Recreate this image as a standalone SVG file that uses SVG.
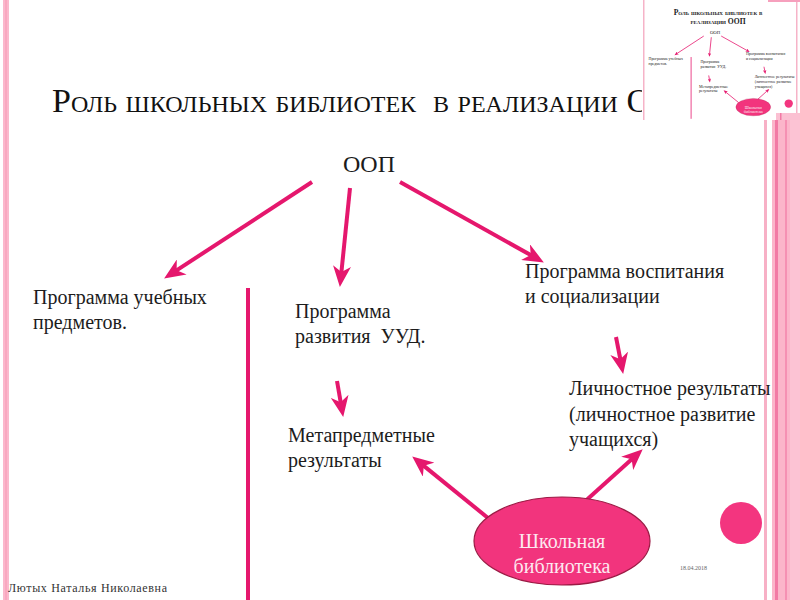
<svg xmlns="http://www.w3.org/2000/svg" xmlns:xlink="http://www.w3.org/1999/xlink" width="800" height="600" viewBox="0 0 800 600">
<style>
.t{font-family:"Liberation Serif","Times New Roman",serif;font-size:20px;fill:#1c1c1c}
.c{stroke:#e5176d;stroke-width:4;fill:none;marker-end:url(#ah)}
.title{font-family:"Liberation Serif","Times New Roman",serif;font-size:34px;font-variant:small-caps;fill:#111;white-space:pre}
.mt{font-family:"Liberation Serif","Times New Roman",serif;font-size:7.6px;font-weight:bold;font-variant:small-caps;fill:#222;text-anchor:middle}
</style>
<defs>
<marker id="ah" markerUnits="userSpaceOnUse" markerWidth="22" markerHeight="18" viewBox="0 0 22 18" refX="8" refY="9" orient="auto">
<path d="M0,0 L21,9 L0,18 L6,9 z" fill="#e5176d"/>
</marker>
</defs>
<rect width="800" height="600" fill="#fff"/>
<g id="borders">
<rect x="3" y="0" width="6" height="600" fill="#fbb8cc"/>
<rect x="5" y="0" width="2" height="600" fill="#f9a8c0"/>
<rect x="764" y="120" width="3" height="480" fill="#f7b0c6"/>
<rect x="772" y="120" width="28" height="480" fill="#fbb5ca"/>
<rect x="775" y="120" width="3" height="480" fill="#f27aa5"/>
<rect x="785" y="120" width="2" height="480" fill="#f590b3"/>
<rect x="790" y="120" width="10" height="480" fill="#fcc3d4"/>
</g>
<text class="title" x="52" y="112">Роль школьных библиотек  в реализации ООП</text>
<g id="diagram">
<g id="connectors">
<line class="c" x1="312" y1="182" x2="175" y2="271.4"/>
<line class="c" x1="350" y1="188" x2="341.2" y2="274.1"/>
<line class="c" x1="400" y1="182" x2="532.5" y2="256.1"/>
<line class="c" x1="616" y1="337" x2="620.7" y2="361.2"/>
<line class="c" x1="337" y1="381" x2="341" y2="404.2"/>
<line class="c" x1="488" y1="518" x2="422.3" y2="464.6"/>
<line class="c" x1="581" y1="505" x2="633.1" y2="458"/>
<line x1="248" y1="288" x2="248" y2="600" stroke="#e5176d" stroke-width="4"/>
</g>
<g id="oop"><text class="t" x="343" y="172" style="font-size:24px">ООП</text></g>
<g id="subjects"><text class="t" x="33" y="304">Программа учебных</text><text class="t" x="33" y="329">предметов.</text></g>
<g id="uud"><text class="t" x="295" y="318">Программа</text><text class="t" x="295" y="343" style="white-space:pre">развития  УУД.</text></g>
<g id="upbringing"><text class="t" x="525" y="278">Программа воспитания</text><text class="t" x="525" y="303">и социализации</text></g>
<g id="personal"><text class="t" x="569" y="395">Личностное результаты</text><text class="t" x="569" y="421">(личностное развитие</text><text class="t" x="569" y="446">учащихся)</text></g>
<g id="meta"><text class="t" x="288" y="442">Метапредметные</text><text class="t" x="288" y="467">результаты</text></g>
<g id="library">
<ellipse cx="562" cy="541" rx="88" ry="44" fill="#f2347d" stroke="#9b1a44" stroke-width="1.2"/>
<text class="t" x="562" y="548" text-anchor="middle" style="fill:#fde8f0">Школьная</text>
<text class="t" x="562" y="573" text-anchor="middle" style="fill:#fde8f0">библиотека</text>
</g>
<circle cx="741" cy="523" r="21" fill="#f3357f"/>
</g>
<text x="680" y="570" style="font-family:'Liberation Serif',serif;font-size:6px;fill:#666">18.04.2018</text>
<text x="8" y="592" textLength="159" style="font-family:'Liberation Serif',serif;font-size:12px;fill:#333">Лютых Наталья Николаевна</text>
<g id="thumbnail">
<rect x="642" y="0" width="158" height="120" fill="#fff"/>
<rect x="643" y="0" width="1.5" height="120" fill="#f6b3c8"/>
<rect x="796" y="0" width="1.5" height="120" fill="#f6b3c8"/>
<rect x="768" y="0" width="32" height="2" fill="#f6a0bd"/>
<use xlink:href="#diagram" href="#diagram" transform="translate(642,0) scale(0.198)"/>
<text class="mt" x="718" y="15">Роль школьных библиотек  в</text>
<text class="mt" x="718" y="24">реализации ООП</text>
<rect x="776" y="113" width="24" height="7" fill="#fbc0d2"/>
<rect x="780" y="113" width="1.5" height="7" fill="#f27aa5"/>
</g>
</svg>
